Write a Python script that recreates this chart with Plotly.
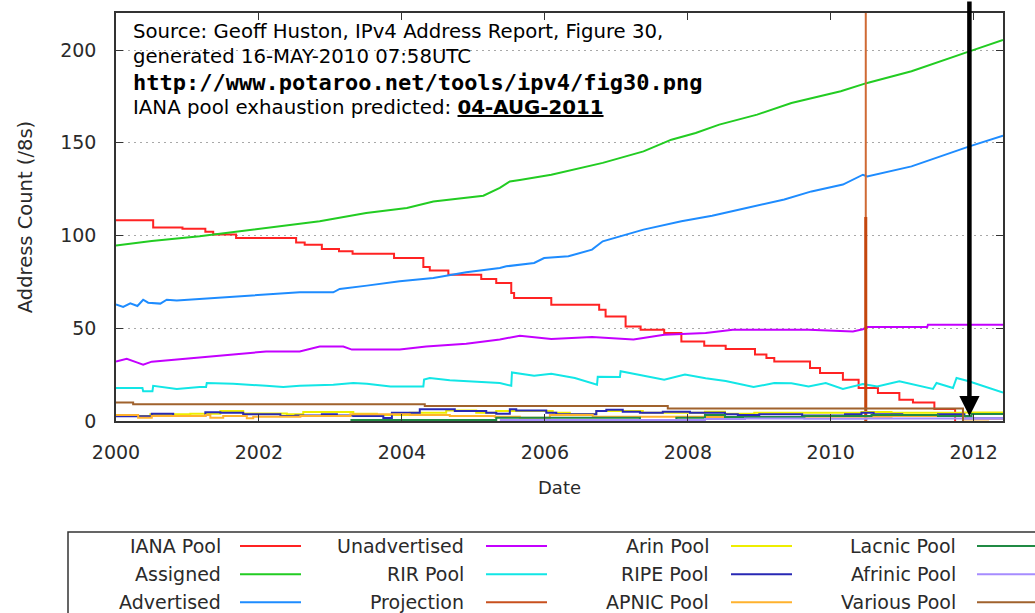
import plotly.graph_objects as go

# ---------------- data (decimal year, address count in /8s) ----------------
iana_pool = [(2000.00, 108.2), (2000.52, 104.4), (2000.93, 103.6), (2001.25, 102.0), (2001.36, 100.5),
             (2001.68, 98.7), (2002.52, 96.3), (2002.64, 95.1), (2002.88, 92.8), (2003.12, 91.5),
             (2003.31, 90.2), (2003.89, 87.9), (2004.30, 83.0), (2004.39, 81.2), (2004.65, 78.9),
             (2005.11, 76.6), (2005.32, 74.4), (2005.53, 69.0), (2005.57, 66.3), (2006.09, 62.7),
             (2006.76, 60.0), (2006.85, 56.4), (2007.13, 51.0), (2007.34, 49.2), (2007.67, 47.5),
             (2007.91, 42.9), (2008.23, 40.6), (2008.53, 38.8), (2008.94, 35.8), (2009.10, 34.0),
             (2009.21, 32.1), (2009.71, 28.6), (2009.85, 25.9), (2010.17, 22.3), (2010.39, 17.8),
             (2010.66, 15.1), (2010.96, 11.5), (2011.15, 10.0), (2011.45, 6.5), (2011.74, 0.0)]

assigned = [(2000.00, 94.6), (2000.50, 97.0), (2001.17, 99.6), (2002.00, 103.6), (2002.85, 107.7),
            (2003.50, 112.2), (2004.07, 114.9), (2004.44, 118.4), (2005.14, 121.5), (2005.37, 125.7),
            (2005.51, 129.2), (2005.65, 130.0), (2006.09, 132.8), (2006.81, 139.2), (2007.38, 145.4),
            (2007.77, 151.7), (2008.11, 155.3), (2008.44, 159.8), (2008.97, 165.2), (2009.45, 171.5),
            (2010.14, 177.8), (2010.51, 182.3), (2011.13, 188.6), (2011.94, 199.3), (2012.41, 205.5)]

advertised = [(2000.00, 62.8), (2000.10, 61.5), (2000.20, 63.5), (2000.30, 62.0), (2000.38, 65.4),
              (2000.45, 63.8), (2000.62, 63.3), (2000.71, 65.4), (2000.85, 65.0), (2001.17, 65.8),
              (2001.40, 66.2), (2001.64, 66.9), (2002.01, 67.6), (2002.30, 68.5), (2002.57, 69.4),
              (2003.04, 69.4), (2003.13, 71.2), (2003.51, 73.0), (2003.97, 75.3), (2004.44, 77.1),
              (2004.90, 80.2), (2005.37, 82.5), (2005.46, 83.4), (2005.85, 85.2), (2005.99, 87.9),
              (2006.33, 88.8), (2006.66, 92.4), (2006.81, 96.9), (2007.38, 103.2), (2007.91, 107.7),
              (2008.34, 110.7), (2008.82, 114.9), (2009.35, 119.4), (2009.73, 123.8), (2010.17, 127.5),
              (2010.45, 132.8), (2010.51, 131.9), (2011.13, 137.3), (2011.94, 148.1), (2012.41, 153.9)]

unadvertised = [(2000.00, 32.1), (2000.15, 33.5), (2000.30, 31.5), (2000.38, 30.4), (2000.50, 32.0),
                (2000.71, 32.7), (2001.17, 34.0), (2001.64, 35.8), (2002.10, 37.5), (2002.57, 37.5),
                (2002.85, 40.2), (2003.18, 40.2), (2003.30, 38.5), (2003.97, 38.5), (2004.34, 40.2),
                (2004.90, 41.7), (2005.37, 43.9), (2005.65, 46.0), (2006.09, 44.2), (2006.66, 45.3),
                (2007.24, 43.9), (2007.67, 46.5), (2008.25, 47.5), (2008.63, 49.2), (2009.69, 49.2),
                (2010.31, 48.3), (2010.45, 49.5), (2010.51, 50.7), (2011.35, 50.7), (2011.36, 51.9),
                (2012.41, 51.9)]

rir_pool = [(2000.00, 17.8), (2000.37, 17.8), (2000.38, 16.0), (2000.51, 16.0), (2000.52, 19.0),
            (2000.85, 17.3), (2001.17, 18.3), (2001.26, 18.3), (2001.27, 20.5), (2001.64, 20.1),
            (2002.10, 19.0), (2002.34, 18.3), (2002.57, 19.0), (2003.04, 19.6), (2003.32, 20.5),
            (2003.51, 20.1), (2003.84, 18.6), (2004.30, 18.6), (2004.31, 22.3), (2004.39, 23.2),
            (2004.67, 22.0), (2005.09, 20.9), (2005.37, 20.5), (2005.53, 19.0), (2005.54, 26.2),
            (2005.85, 24.4), (2006.09, 25.5), (2006.42, 23.2), (2006.73, 19.6), (2006.74, 23.8),
            (2007.05, 23.7), (2007.06, 26.8), (2007.43, 24.0), (2007.67, 22.3), (2007.96, 25.0),
            (2008.25, 23.0), (2008.53, 21.6), (2008.92, 18.3), (2009.21, 20.5), (2009.45, 20.3),
            (2009.69, 18.6), (2009.93, 20.5), (2010.17, 17.3), (2010.45, 20.0), (2010.65, 18.6),
            (2010.96, 21.4), (2011.43, 17.3), (2011.48, 20.5), (2011.71, 17.8), (2011.76, 23.2),
            (2011.92, 21.6), (2012.41, 15.3)]

projection_date = 2010.49
projection_full = [0, 230]
projection_peak = [0, 110]

arin_pool = [(2000.00, 2.7), (2000.48, 3.6), (2001.04, 3.9), (2001.46, 5.4), (2001.78, 4.1),
             (2002.39, 3.6), (2002.62, 4.8), (2003.32, 3.9), (2003.65, 3.2), (2004.11, 4.5),
             (2004.62, 5.7), (2005.04, 4.5), (2005.32, 5.4), (2006.11, 4.5), (2006.35, 3.6),
             (2006.72, 5.4), (2007.37, 4.5), (2008.24, 5.0), (2008.52, 3.9), (2008.93, 4.5),
             (2010.43, 4.8), (2010.85, 4.5), (2011.87, 4.6), (2012.41, 4.6)]

ripe_pool = [(2000.00, 2.5), (2000.50, 3.9), (2000.80, 2.7), (2001.25, 4.7), (2001.46, 4.4),
             (2001.78, 3.6), (2002.30, 2.7), (2002.51, 3.0), (2002.88, 3.6), (2003.09, 2.9),
             (2003.32, 2.7), (2003.74, 1.6), (2003.86, 4.4), (2004.25, 6.3), (2004.74, 5.4),
             (2005.18, 4.5), (2005.32, 3.9), (2005.51, 6.3), (2005.60, 5.7), (2006.02, 4.5),
             (2006.16, 3.6), (2006.72, 5.4), (2006.86, 6.0), (2007.09, 5.0), (2007.33, 4.5),
             (2007.65, 5.0), (2008.03, 4.5), (2008.52, 3.6), (2008.70, 3.2), (2009.00, 3.6),
             (2009.60, 3.0), (2010.20, 3.6), (2010.43, 4.5), (2010.60, 3.6), (2011.00, 3.2),
             (2011.50, 3.6), (2011.87, 1.4), (2012.41, 1.4)]

apnic_pool = [(2000.00, 3.2), (2000.31, 1.8), (2000.50, 2.7), (2001.25, 3.2), (2001.32, 1.8),
              (2001.50, 2.7), (2001.83, 1.5), (2001.92, 2.3), (2002.58, 2.7), (2003.28, 3.6),
              (2004.11, 3.2), (2004.67, 2.7), (2005.30, 2.3), (2005.65, 1.8), (2006.07, 3.2),
              (2006.67, 2.3), (2008.24, 2.1), (2009.63, 2.3), (2010.85, 2.7), (2011.87, 0.8),
              (2012.20, 1.1), (2012.41, 1.1)]

lacnic_pool = [(2003.28, 0.5), (2005.32, 1.8), (2007.33, 0.5), (2007.84, 1.8), (2008.24, 3.2),
               (2008.52, 2.1), (2009.63, 2.7), (2010.57, 3.2), (2011.50, 2.7), (2011.97, 3.8),
               (2012.41, 3.8)]

afrinic_pool = [(2005.37, 0.5), (2008.24, 1.1), (2008.80, 1.4), (2009.63, 1.2), (2010.50, 1.4),
                (2011.87, 1.2), (2012.41, 1.2)]

various_pool = [(2000.00, 10.0), (2000.24, 9.0), (2004.32, 8.1), (2007.72, 6.8), (2011.85, 0.0)]

exhaustion_marker_date = 2011.94
exhaustion_marker_tip = 2.5

x_tick_vals = [2000, 2002, 2004, 2006, 2008, 2010, 2012]
x_tick_text = ["2000", "2002", "2004", "2006", "2008", "2010", "2012"]
y_tick_vals = [0, 50, 100, 150, 200]

source_lines = ["Source: Geoff Huston, IPv4 Address Report, Figure 30,",
                "generated 16-MAY-2010 07:58UTC",
                "http://www.potaroo.net/tools/ipv4/fig30.png",
                "IANA pool exhaustion predicted: "]
predicted_date_text = "04-AUG-2011"

# ---------------- styling ----------------
series = [
    ("IANA Pool", iana_pool, "#ff2323", "hv"),
    ("Assigned", assigned, "#22cc22", "linear"),
    ("Advertised", advertised, "#1e8cff", "linear"),
    ("Unadvertised", unadvertised, "#c400ff", "linear"),
    ("RIR Pool", rir_pool, "#12e6e6", "linear"),
    ("Projection", None, "#c8501e", None),
    ("Arin Pool", arin_pool, "#eeee00", "hv"),
    ("RIPE Pool", ripe_pool, "#2828b4", "hv"),
    ("APNIC Pool", apnic_pool, "#ffb22e", "hv"),
    ("Lacnic Pool", lacnic_pool, "#208a44", "hv"),
    ("Afrinic Pool", afrinic_pool, "#a68cff", "hv"),
    ("Various Pool", various_pool, "#a0622d", "hv"),
]

W, H = 1035, 613
PL, PR, PT, PB = 116, 1003, 13, 421
PW, PH = PR - PL, PB - PT
FONT = "DejaVu Sans"
TXT = "#2a2a2a"


def px(xp):
    return (xp - PL) / PW


def py(yp):
    return (PB - yp) / PH


fig = go.Figure()

for name, data, color, shape in series:
    if data is None:
        fig.add_trace(go.Scatter(x=[projection_date] * 2, y=projection_full, mode="lines",
                                 line=dict(color="#cf6a34", width=2), showlegend=False,
                                 name=name))
        fig.add_trace(go.Scatter(x=[projection_date] * 2, y=projection_peak, mode="lines",
                                 line=dict(color="#c4460e", width=3), showlegend=False,
                                 name=name))
        continue
    xs = [p[0] for p in data]
    ys = [p[1] for p in data]
    fig.add_trace(go.Scatter(x=xs, y=ys, mode="lines", name=name, showlegend=False,
                             line=dict(color=color, width=2, shape=shape)))

axis_common = dict(showline=True, linecolor="#333333", linewidth=1.5, mirror="ticks",
                   ticks="inside", ticklen=7, tickwidth=1.3, tickcolor="#333333",
                   tickfont=dict(family=FONT, size=19, color=TXT), zeroline=False)

fig.update_xaxes(range=[2000, 2012.41], tickvals=x_tick_vals, ticktext=x_tick_text,
                 showgrid=False, ticklabelstandoff=13,
                 title=dict(text="Date", font=dict(family=FONT, size=18, color=TXT), standoff=20),
                 **axis_common)
fig.update_yaxes(range=[0, 220], tickvals=y_tick_vals, showgrid=True, gridcolor="#a8a8a8",
                 griddash="2px,4px", gridwidth=1, ticklabelstandoff=14,
                 title=dict(text="Address Count (/8s)", font=dict(family=FONT, size=19.5, color=TXT),
                            standoff=22),
                 **axis_common)

annotations = []
line_y = [32, 57, 83, 108]
for i, t in enumerate(source_lines):
    if i == 2:
        txt = "<b>" + t + "</b>"
        fnt = dict(family="DejaVu Sans Mono", size=22, color="#000000")
    elif i == 3:
        txt = t + "<b><u>" + predicted_date_text + "</u></b>"
        fnt = dict(family=FONT, size=19.8, color="#000000")
    else:
        txt = t
        fnt = dict(family=FONT, size=19.7, color="#000000")
    annotations.append(dict(xref="paper", yref="paper", x=px(131), y=py(line_y[i]), text=txt,
                            showarrow=False, xanchor="left", yanchor="middle", font=fnt))

# exhaustion arrow
annotations.append(dict(xref="x", yref="y", x=exhaustion_marker_date, y=exhaustion_marker_tip,
                        ax=0, ay=-440, text="", showarrow=True, arrowhead=2, arrowsize=0.9,
                        arrowwidth=4.5, arrowcolor="#000000", standoff=0))

# legend (key box below the chart, gnuplot style: label then sample)
shapes = [dict(type="rect", xref="paper", yref="paper", x0=px(68), x1=px(1045), y0=py(626),
               y1=py(532), line=dict(color="#333333", width=1.5), fillcolor="rgba(0,0,0,0)")]
col_text_right = [223, 466, 711, 958]
col_line = [(240, 301), (486, 547), (731, 792), (977, 1040)]
row_y = [546, 574.3, 602.3]
for k, (name, data, color, shape) in enumerate(series):
    c, r = divmod(k, 3)
    annotations.append(dict(xref="paper", yref="paper", x=px(col_text_right[c]), y=py(row_y[r]),
                            text=name, showarrow=False, xanchor="right", yanchor="middle",
                            font=dict(family=FONT, size=19, color=TXT)))
    shapes.append(dict(type="line", xref="paper", yref="paper", x0=px(col_line[c][0]),
                       x1=px(col_line[c][1]), y0=py(row_y[r]), y1=py(row_y[r]),
                       line=dict(color=color, width=2)))

fig.update_layout(width=W, height=H, margin=dict(l=PL, r=W - PR, t=PT, b=H - PB, pad=0),
                  paper_bgcolor="white", plot_bgcolor="white", showlegend=False,
                  annotations=annotations, shapes=shapes,
                  font=dict(family=FONT, size=18, color=TXT))

fig.write_html("out.html", config={"displayModeBar": False},
               post_script="document.body.style.margin='0';")
